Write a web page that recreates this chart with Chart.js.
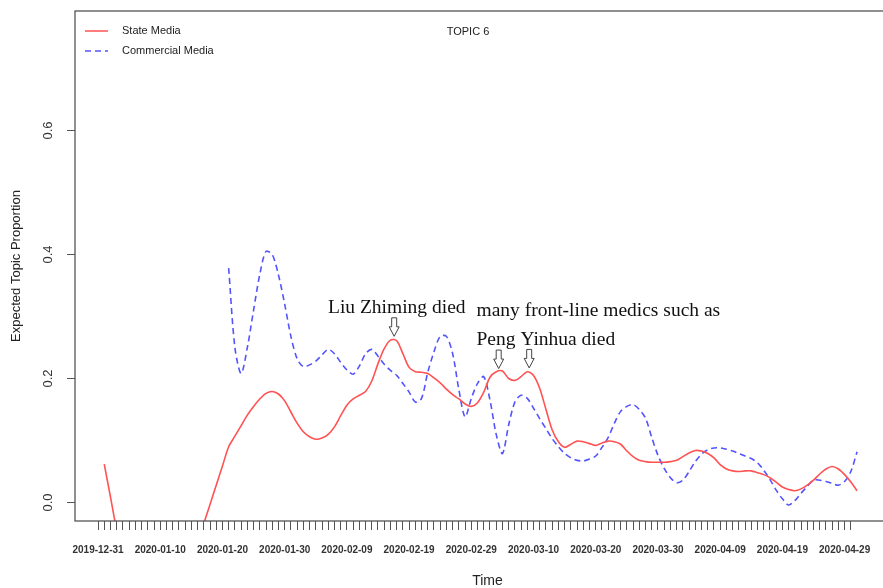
<!DOCTYPE html>
<html>
<head>
<meta charset="utf-8">
<script src="https://cdn.jsdelivr.net/npm/chart.js@4.4.1/dist/chart.umd.min.js"></script>
<style>
html,body{margin:0;padding:0;background:#fff;overflow:hidden}
#wrap{width:900px;height:588px}
</style>
</head>
<body>
<div id="wrap"><canvas id="chartArea" width="900" height="588"></canvas></div>
<script>
// x is days since 2019-12-31
var tickLabels = ['2019-12-31','2020-01-10','2020-01-20','2020-01-30','2020-02-09','2020-02-19',
  '2020-02-29','2020-03-10','2020-03-20','2020-03-30','2020-04-09','2020-04-19','2020-04-29']
var lastTickDay = 121

var stateStart = 1
var stateMedia = [
  0.062, 0.009, -0.045, -0.090, -0.120, -0.130, -0.130, -0.130, -0.130, -0.130,
  -0.130, -0.130, -0.130, -0.125, -0.100, -0.065, -0.034, -0.003, 0.028, 0.059,
  0.090, 0.107, 0.124, 0.141, 0.155, 0.167, 0.176, 0.179, 0.175, 0.164,
  0.146, 0.128, 0.114, 0.106, 0.102, 0.104, 0.110, 0.122, 0.140, 0.157,
  0.167, 0.173, 0.179, 0.196, 0.224, 0.248, 0.262, 0.261, 0.240, 0.218,
  0.211, 0.210, 0.208, 0.201, 0.193, 0.183, 0.174, 0.167, 0.159, 0.155,
  0.161, 0.178, 0.202, 0.211, 0.212, 0.200, 0.197, 0.203, 0.211, 0.205,
  0.184, 0.150, 0.117, 0.098, 0.089, 0.094, 0.099, 0.098, 0.095, 0.092,
  0.096, 0.099, 0.098, 0.094, 0.083, 0.074, 0.068, 0.066, 0.065, 0.065,
  0.065, 0.066, 0.068, 0.074, 0.080, 0.084, 0.083, 0.079, 0.072, 0.061,
  0.054, 0.051, 0.050, 0.051, 0.051, 0.048, 0.045, 0.040, 0.033, 0.025,
  0.021, 0.019, 0.022, 0.028, 0.036, 0.046, 0.054, 0.058, 0.054, 0.045,
  0.033, 0.019
]

var commercialStart = 21
var commercialMedia = [
  0.378, 0.250, 0.208, 0.250, 0.310, 0.368, 0.405, 0.400, 0.367, 0.320,
  0.268, 0.232, 0.219, 0.222, 0.228, 0.238, 0.247, 0.240, 0.226, 0.214,
  0.207, 0.220, 0.240, 0.247, 0.236, 0.223, 0.213, 0.205, 0.192, 0.178,
  0.162, 0.168, 0.210, 0.243, 0.268, 0.268, 0.240, 0.182, 0.138, 0.168,
  0.192, 0.203, 0.165, 0.110, 0.079, 0.125, 0.162, 0.173, 0.168, 0.152,
  0.135, 0.119, 0.103, 0.090, 0.079, 0.072, 0.068, 0.067, 0.070, 0.075,
  0.089, 0.105, 0.128, 0.147, 0.155, 0.158, 0.150, 0.136, 0.105, 0.076,
  0.055, 0.040, 0.032, 0.036, 0.050, 0.066, 0.078, 0.085, 0.088, 0.088,
  0.086, 0.083, 0.079, 0.075, 0.071, 0.064, 0.052, 0.037, 0.020, 0.006,
  -0.004, 0.003, 0.015, 0.026, 0.036, 0.036, 0.034, 0.031, 0.028, 0.034,
  0.050, 0.082
]

// arrows point at these spots on the state media line
var eventDays = [47.6, 64.4, 69.3]
var eventValues = [0.264, 0.212, 0.213]

Chart.defaults.font.family = "'Liberation Sans', Arial, sans-serif"

function drawArrow(ctx, cx, tipY){
  ctx.beginPath()
  ctx.moveTo(cx-2.5, tipY-18.5)
  ctx.lineTo(cx+2.5, tipY-18.5)
  ctx.lineTo(cx+2.5, tipY-9.5)
  ctx.lineTo(cx+5, tipY-9.5)
  ctx.lineTo(cx, tipY)
  ctx.lineTo(cx-5, tipY-9.5)
  ctx.lineTo(cx-2.5, tipY-9.5)
  ctx.closePath()
  ctx.fillStyle = '#fff'
  ctx.fill()
  ctx.strokeStyle = '#444'
  ctx.lineWidth = 1
  ctx.stroke()
}

var decor = {
  id: 'decor',
  beforeDraw: function(chart){
    var ctx = chart.ctx
    ctx.save()
    ctx.fillStyle = '#fff'
    ctx.fillRect(0, 0, chart.width, chart.height)
    ctx.restore()
  },
  afterDraw: function(chart){
    var ctx = chart.ctx
    var a = chart.chartArea
    var xs = chart.scales.x, ys = chart.scales.y
    ctx.save()
    // plot box
    ctx.strokeStyle = '#555'
    ctx.lineWidth = 1.3
    ctx.strokeRect(a.left, a.top, a.right - a.left + 20, a.bottom - a.top)

    // title
    ctx.fillStyle = '#222'
    ctx.font = "11px 'Liberation Sans', Arial, sans-serif"
    ctx.textAlign = 'center'
    ctx.textBaseline = 'middle'
    ctx.fillText('TOPIC 6', 468, 32)

    // legend
    ctx.textAlign = 'left'
    chart.data.datasets.forEach(function(ds, i){
      var ly = 31 + i * 20
      ctx.beginPath()
      ctx.strokeStyle = ds.borderColor
      ctx.lineWidth = 1.5
      ctx.setLineDash(ds.borderDash || [])
      ctx.moveTo(85, ly)
      ctx.lineTo(108, ly)
      ctx.stroke()
      ctx.setLineDash([])
      ctx.fillStyle = '#222'
      ctx.fillText(ds.label, 122, ly)
    })

    // annotations
    ctx.fillStyle = '#111'
    ctx.font = "19.5px 'Liberation Serif', 'Times New Roman', serif"
    ctx.textBaseline = 'alphabetic'
    ctx.fillText('Liu Zhiming died', 328, 312.5)
    ctx.fillText('many front-line medics such as', 476.5, 316)
    ctx.fillText('Peng Yinhua died', 476.5, 345)

    for (var i = 0; i < eventDays.length; i++){
      drawArrow(ctx, xs.getPixelForValue(eventDays[i]), ys.getPixelForValue(eventValues[i]) - 2.5)
    }
    ctx.restore()
  }
}

var ctx = document.getElementById('chartArea').getContext('2d')
var myChart = new Chart(ctx, {
  type: 'line',
  data: {
    datasets: [
      {
        label: 'State Media',
        data: stateMedia.map(function(v, i){ return {x: stateStart + i, y: v} }),
        borderColor: '#ff5252',
        borderWidth: 1.6,
        pointRadius: 0,
        tension: 0.3,
        clip: 0
      },
      {
        label: 'Commercial Media',
        data: commercialMedia.map(function(v, i){ return {x: commercialStart + i, y: v} }),
        borderColor: '#5454ff',
        borderWidth: 1.6,
        borderDash: [6, 4],
        pointRadius: 0,
        tension: 0.3,
        clip: 0
      }
    ]
  },
  options: {
    responsive: false,
    animation: false,
    devicePixelRatio: 1,
    layout: { padding: { top: 11, left: 0, right: 0, bottom: 0 } },
    plugins: { legend: { display: false }, tooltip: { enabled: false } },
    scales: {
      x: {
        type: 'linear',
        min: -3.7,
        max: 128.9,
        afterFit: function(s){ s.height = 67; s.paddingLeft = 0; s.paddingRight = 0 },
        afterBuildTicks: function(s){
          var t = []
          for (var d = 0; d <= lastTickDay; d++) t.push({value: d})
          s.ticks = t
        },
        border: { display: false },
        grid: { drawOnChartArea: false, tickLength: 9, color: '#555' },
        ticks: {
          autoSkip: false, maxRotation: 0, minRotation: 0, padding: 14,
          color: '#333', font: { size: 10, weight: 'bold' },
          callback: function(v){ return v % 10 === 0 ? tickLabels[v / 10] : '' }
        },
        title: {
          display: true, text: 'Time', color: '#222',
          font: { size: 14, lineHeight: 1 }, padding: { top: 0, bottom: 0 }
        }
      },
      y: {
        min: -0.0298,
        max: 0.7927,
        afterFit: function(s){ s.width = 75; s.paddingTop = 0; s.paddingBottom = 0 },
        border: { display: false },
        grid: { drawOnChartArea: false, tickLength: 8, color: '#555' },
        ticks: {
          stepSize: 0.2, includeBounds: false, minRotation: 90, maxRotation: 90,
          crossAlign: 'center', padding: 10, color: '#333', font: { size: 13 },
          callback: function(v){ return v.toFixed(1) }
        },
        title: {
          display: true, text: 'Expected Topic Proportion', color: '#222',
          font: { size: 13, lineHeight: 1 }, padding: { top: 9.5, bottom: 0 }
        }
      }
    }
  },
  plugins: [decor]
})
</script>
</body>
</html>
